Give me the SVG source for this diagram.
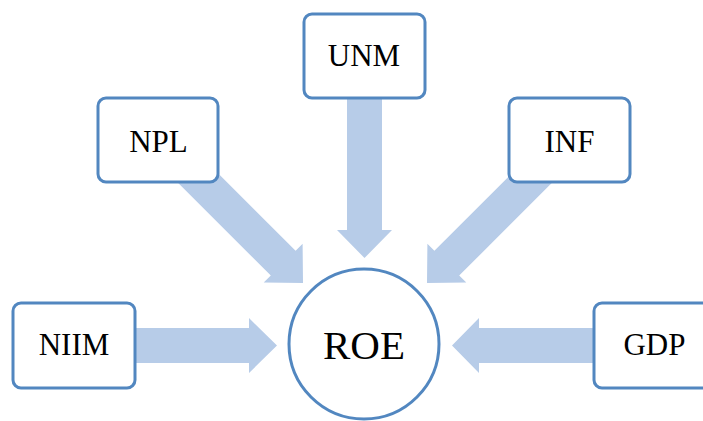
<svg xmlns="http://www.w3.org/2000/svg" width="703" height="421" viewBox="0 0 703 421">
<style>
.box{fill:#fff;stroke:#5287C0;stroke-width:3}
.arrow{fill:#B7CCE8;stroke:none}
.lbl{font-family:"Liberation Serif","Times New Roman",serif;font-size:31px;fill:#000;text-anchor:middle}
.big{font-size:41px}
</style>
<rect width="703" height="421" fill="#fff"/>
<g id="connectors">
<polygon class="arrow" points="182.5,137.7 295.6,250.8 302.6,243.7 303,283 263.7,282.6 270.8,275.6 157.7,162.5"/>
<polygon class="arrow" points="547.5,137.7 434.4,250.8 427.4,243.7 427,283 466.3,282.6 459.2,275.6 572.3,162.5"/>
<polygon class="arrow" points="347,60 382,60 382,230 392,230 364.5,258 337,230 347,230"/>
<polygon class="arrow" points="100,328 249,328 249,318 277,345.5 249,373 249,363 100,363"/>
<polygon class="arrow" points="640,328 479,328 479,318 452,345.5 479,373 479,363 640,363"/>
</g>
<g id="NPL">
<rect class="box" x="98" y="98" width="120" height="84" rx="8"/>
<text class="lbl" x="158.5" y="152">NPL</text>
</g>
<g id="UNM">
<rect class="box" x="304" y="14" width="121" height="84" rx="8"/>
<text class="lbl" x="364" y="66">UNM</text>
</g>
<g id="INF">
<rect class="box" x="509" y="98" width="121" height="84" rx="8"/>
<text class="lbl" x="569.5" y="152">INF</text>
</g>
<g id="NIIM">
<rect class="box" x="13" y="303" width="122" height="85" rx="8"/>
<text class="lbl" x="74" y="355">NIIM</text>
</g>
<g id="GDP">
<rect class="box" x="594" y="303" width="121" height="85" rx="8"/>
<text class="lbl" x="654.5" y="355">GDP</text>
</g>
<g id="ROE">
<circle class="box" cx="364" cy="344" r="75"/>
<text class="lbl big" x="364" y="359">ROE</text>
</g>
</svg>
